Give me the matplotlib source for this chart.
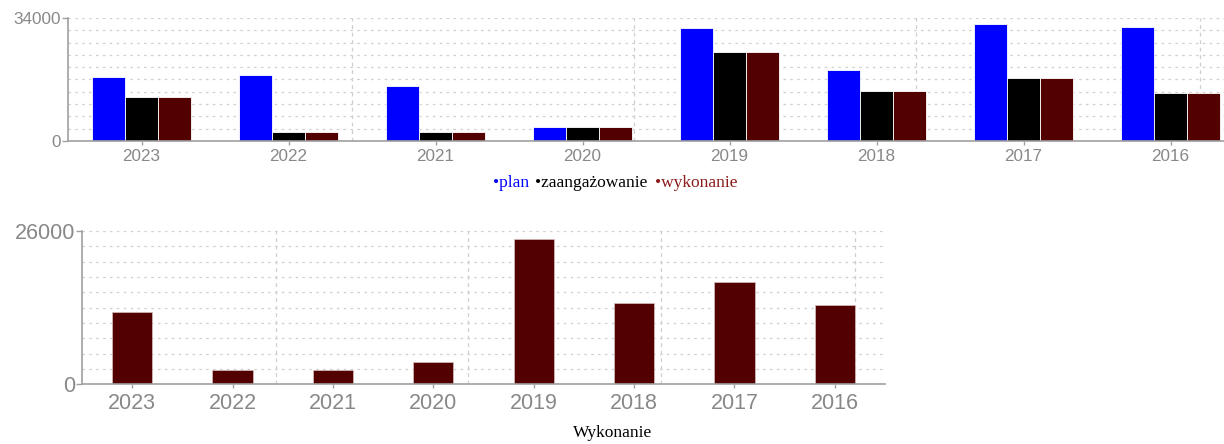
import matplotlib
matplotlib.use("Agg")
import matplotlib.pyplot as plt
import numpy as np

# data
years = ["2023", "2022", "2021", "2020", "2019", "2018", "2017", "2016"]
plan = [17800, 18200, 15300, 3850, 31200, 19600, 32300, 31400]
zaangazowanie = [12200, 2500, 2500, 3850, 24700, 13800, 17300, 13400]
wykonanie = [12200, 2500, 2500, 3850, 24700, 13800, 17300, 13400]
top_max = 34000
bottom_max = 26000
vgrid = [1.43, 3.35, 5.27, 7.2]

BLUE = "#0000ff"
BLACK = "#000000"
DARKRED = "#530000"
AXIS = "#a0a0a0"
GRID = "#cfcfcf"
TICK = "#888888"

plt.rcParams["font.family"] = ["Liberation Sans", "DejaVu Sans"]

fig = plt.figure(figsize=(12.24, 4.44), dpi=100)
W, H = 1224, 444


def setup(ax, ymax, fs, xpad):
    ax.set_xlim(-0.5, 7.5)
    ax.set_ylim(0, ymax)
    for s in ["top", "right"]:
        ax.spines[s].set_visible(False)
    for s in ["left", "bottom"]:
        ax.spines[s].set_color(AXIS)
        ax.spines[s].set_linewidth(1.2)
    ax.set_yticks([0, ymax])
    ax.set_yticklabels(["0", str(ymax)])
    ax.set_yticks(np.linspace(0, ymax, 11), minor=True)
    ax.set_xticks(range(len(years)))
    ax.set_xticklabels(years)
    ax.tick_params(axis="y", which="major", length=4, width=1, color=AXIS,
                   labelcolor=TICK, labelsize=fs, pad=1)
    ax.tick_params(axis="y", which="minor", length=0)
    ax.tick_params(axis="x", length=3, width=1, color=AXIS,
                   labelcolor=TICK, labelsize=fs, pad=xpad)
    ax.grid(axis="y", which="both", color=GRID, linestyle=(0, (2, 3.5)), linewidth=0.9)
    for v in vgrid:
        ax.axvline(v, color=GRID, linestyle=(0, (3, 3)), linewidth=0.9, zorder=0)
    ax.set_axisbelow(True)


# top chart: plan / zaangazowanie / wykonanie
ax1 = fig.add_axes([68 / W, 1 - 141 / H, (1244 - 68) / W, 123 / H])
x = np.arange(len(years))
bw = 0.225
ax1.bar(x - bw, plan, bw, color=BLUE, edgecolor="white", linewidth=0.6)
ax1.bar(x, zaangazowanie, bw, color=BLACK, edgecolor="white", linewidth=0.6)
ax1.bar(x + bw, wykonanie, bw, color=DARKRED, edgecolor="white", linewidth=0.6)
setup(ax1, top_max, 12.3, 2.5)

# legend as coloured text
serif = ["Liberation Serif", "DejaVu Serif"]
ly = 1 - 183 / H
fig.text(493 / W, ly, "•plan", color=BLUE, family=serif, fontsize=12.5, va="center")
fig.text(535 / W, ly, "•zaangażowanie", color=BLACK, family=serif, fontsize=12.5, va="center")
fig.text(655 / W, ly, "•wykonanie", color="#8b1a1a", family=serif, fontsize=12.5, va="center")

# bottom chart: wykonanie
ax2 = fig.add_axes([82 / W, 1 - 384.3 / H, (885 - 82) / W, 153.3 / H])
ax2.bar(x, wykonanie, 0.4, color=DARKRED, edgecolor="#d8c0c0", linewidth=0.5)
setup(ax2, bottom_max, 15.5, 3)
fig.text(613 / W, 1 - 433 / H, "Wykonanie", color=BLACK, family=serif,
         fontsize=12.5, ha="center", va="center")

fig.savefig("out.png", dpi=100)
